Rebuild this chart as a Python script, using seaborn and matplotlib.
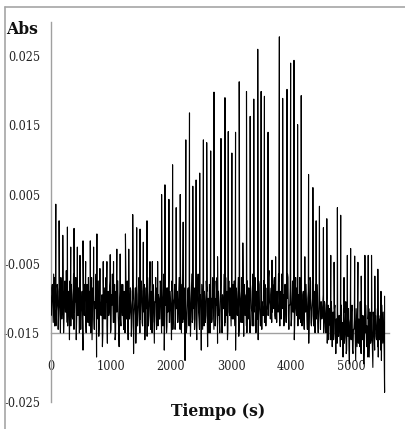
import os
import numpy as np
import pandas as pd
import matplotlib
matplotlib.use("Agg")
import matplotlib.pyplot as plt
import seaborn as sns
from matplotlib import font_manager as fm
from matplotlib.lines import Line2D

# ---------------- data (absorbance in units of 1e-4 Abs) ----------------
base_step_s = 15
# baseline samples at t = 0, 15, 30, ...
base_v = [
    -95, -120, -80, -135, -105, -70, -140, -110, -90, -125, -100, -150, -85, -115, -95, -130, -75, -120, -105, -140,
    -90, -160, -110, -80, -125, -100, -145, -95, -70, -130, -115, -85, -150, -105, -120, -90, -175, -110, -80, -135,
    -100, -125, -70, -140, -95, -115, -160, -85, -130, -105, -90, -185, -120, -75, -140, -100, -125, -95, -150, -110,
    -85, -130, -105, -165, -90, -120, -75, -145, -110, -100, -135, -80, -155, -115, -95, -125, -170, -90, -140, -105,
    -80, -145, -110, -95, -130, -75, -160, -105, -120, -90, -140, -100, -180, -115, -85, -135, -95, -125, -70, -150,
    -105, -90, -140, -115, -80, -130, -100, -155, -95, -120, -75, -145, -110, -135, -90, -165, -105, -125, -85, -140,
    -100, -130, -80, -150, -115, -95, -175, -110, -85, -140, -120, -70, -135, -105, -160, -90, -125, -100, -145, -80,
    -115, -135, -95, -120, -65, -150, -105, -130, -85, -190, -110, -140, -90, -125, -75, -155, -100, -135, -115, -85,
    -130, -100, -160, -80, -120, -145, -95, -175, -110, -70, -140, -105, -125, -90, -170, -115, -80, -150, -100, -130,
    -95, -145, -75, -125, -110, -165, -90, -135, -105, -80, -150, -115, -95, -140, -70, -125, -160, -100, -120, -85,
    -140, -105, -80, -130, -115, -175, -90, -125, -70, -145, -100, -135, -85, -120, -155, -95, -110, -140, -75, -130,
    -100, -150, -90, -120, -65, -140, -110, -85, -130, -105, -160, -80, -125, -95, -145, -115, -75, -135, -100, -120,
    -85, -125, -60, -110, -95, -135, -80, -115, -70, -130, -100, -90, -120, -75, -140, -105, -65, -115, -95, -125,
    -80, -135, -100, -70, -145, -110, -90, -130, -75, -120, -160, -95, -115, -85, -140, -105, -70, -135, -100, -125,
    -90, -145, -110, -80, -130, -100, -165, -115, -75, -140, -105, -125, -90, -150, -110, -80, -135, -120, -95, -145,
    -105, -125, -95, -140, -110, -150, -100, -130, -160, -115, -140, -105, -170, -120, -150, -110, -180, -130, -120, -155,
    -125, -170, -110, -145, -185, -120, -155, -105, -175, -135, -115, -195, -130, -160, -110, -180, -145, -125, -190, -140,
    -115, -165, -135, -105, -180, -150, -125, -195, -140, -110, -170, -155, -130, -185, -120, -160, -145, -200, -135, -175,
    -125, -160, -115, -185, -145, -130, -175, -110, -165, -150, -236,
]
# baseline samples at the half steps t = 7.5, 22.5, 37.5, ...
base_v_half = [
    -125, -85, -110, -65, -140, -100, -120, -80, -145, -95, -115, -70, -130, -105, -150, -90, -120, -60, -135, -100,
    -115, -75, -140, -95, -130, -65, -120, -105, -160, -85, -125, -100, -70, -145, -110, -135, -80, -125, -95, -150,
    -80, -135, -110, -90, -150, -70, -125, -100, -145, -115, -65, -130, -95, -155, -85, -120, -105, -170, -75, -130,
    -110, -70, -140, -100, -125, -85, -150, -95, -65, -135, -115, -160, -90, -120, -75, -145, -105, -130, -80, -125,
    -120, -90, -150, -70, -115, -135, -95, -130, -85, -155, -110, -75, -125, -100, -165, -80, -140, -110, -90, -130,
    -75, -135, -95, -120, -160, -85, -115, -70, -140, -100, -125, -90, -150, -80, -130, -105, -70, -145, -115, -95,
    -130, -75, -120, -95, -140, -65, -125, -100, -150, -85, -110, -135, -90, -120, -75, -145, -105, -80, -130, -115,
    -90, -120, -70, -145, -105, -80, -135, -95, -125, -70, -150, -115, -85, -140, -100, -125, -65, -130, -95, -145,
    -85, -140, -110, -65, -130, -95, -125, -80, -145, -115, -90, -135, -75, -120, -100, -150, -85, -115, -135, -70,
    -120, -90, -140, -100, -70, -125, -110, -150, -80, -130, -95, -115, -65, -135, -105, -90, -145, -75, -125, -110,
    -95, -130, -110, -75, -140, -85, -120, -100, -155, -90, -115, -70, -135, -105, -80, -125, -95, -150, -110, -85,
    -125, -80, -115, -140, -95, -120, -70, -150, -90, -130, -75, -115, -140, -85, -105, -125, -95, -80, -140, -110,
    -115, -70, -105, -130, -85, -120, -100, -75, -125, -95, -135, -110, -65, -120, -90, -130, -85, -100, -140, -80,
    -120, -95, -65, -125, -110, -85, -140, -100, -120, -90, -135, -70, -125, -105, -95, -130, -115, -80, -140, -95,
    -130, -85, -120, -105, -145, -90, -125, -70, -135, -115, -95, -140, -110, -80, -130, -100, -150, -90, -125, -105,
    -130, -110, -150, -105, -135, -120, -165, -110, -140, -130, -160, -120, -140, -160, -115, -150, -130, -165, -140, -125,
    -150, -125, -160, -135, -115, -165, -140, -180, -125, -155, -170, -135, -150, -120, -175, -145, -130, -160, -115, -170,
    -145, -130, -170, -155, -120, -160, -135, -175, -150, -125, -140, -185, -115, -150, -165, -130, -175, -120, -155, -145,
    -155, -135, -170, -125, -160, -140, -190, -135, -120, -175,
]

spike_t = [
    88, 143, 204, 281, 336, 391, 446, 490, 540, 584, 661, 716, 771, 821, 876, 937, 992, 1047, 1102, 1157,
    1245, 1300, 1366, 1432, 1488, 1542, 1603, 1653, 1691, 1780, 1846, 1901, 1967, 2028, 2088, 2155, 2204, 2248,
    2309, 2364, 2419, 2479, 2540, 2595, 2661, 2716, 2775, 2832, 2898, 2953, 3013, 3074, 3135, 3195, 3256, 3317,
    3377, 3443, 3499, 3554, 3614, 3680, 3740, 3802, 3857, 3929, 3989, 4045, 4105, 4165, 4225, 4287, 4359, 4413,
    4468, 4534, 4590, 4656, 4711, 4766, 4821, 4876, 4931, 4986, 5053, 5107, 5162, 5223, 5278, 5333, 5388, 5438,
    5490, 5550,
]
spike_v = [
    36, 12, -9, 3, -26, 1, -26, -38, -17, -47, -17, -26, -7, -57, -47, -47, -37, -47, -29, -36,
    -7, -29, 21, 2, 0, -19, 12, -47, -47, -47, 50, 64, 43, 93, 31, 50, 10, 129,
    168, 62, 71, 81, 129, 125, 113, 198, -40, 131, 190, 141, 110, 140, 213, -20, 199, 163,
    188, 260, 199, 192, 140, -45, -40, 278, 189, 202, 240, 244, 151, 193, -40, 79, 60, 12,
    33, 2, 15, -38, -48, 31, 20, -70, -38, -28, -39, -48, -68, -38, -38, -38, -68, -58,
    -90, -97,
]

xtick_vals = [0, 1000, 2000, 3000, 4000, 5000]
xtick_labels = ["0", "1000", "2000", "3000", "4000", "5000"]
ytick_vals = [-0.025, -0.015, -0.005, 0.005, 0.015, 0.025]
ytick_labels = ["-0.025", "-0.015", "-0.005", "0.005", "0.015", "0.025"]

base_t = np.arange(len(base_v)) * base_step_s
base_t_half = np.arange(len(base_v_half)) * base_step_s + base_step_s / 2
df = pd.concat([
    pd.DataFrame({"t": base_t, "v": np.array(base_v) * 1e-4}),
    pd.DataFrame({"t": base_t_half, "v": np.array(base_v_half) * 1e-4}),
    pd.DataFrame({"t": spike_t, "v": np.array(spike_v) * 1e-4}),
]).sort_values("t", kind="stable").reset_index(drop=True)

# ---------------- fonts ----------------
sns.set_style("white")

BAD = ("italic", "oblique", "light", "thin", "medium", "semi", "black", "extra", "demi", "heavy")


def find_narrow(want_bold):
    found = []
    for f in fm.fontManager.ttflist:
        b = os.path.basename(f.fname).lower()
        if not ("narrow" in b or "condensed" in b):
            continue
        if any(x in b for x in BAD):
            continue
        if ("bold" in b) != want_bold:
            continue
        found.append(f.fname)
    found.sort(key=lambda p: (0 if "serif" in p.lower() else 1, p))
    return found[0] if found else None


nr, nb = find_narrow(False), find_narrow(True)
if nr and nb:
    reg = fm.FontProperties(fname=nr)
    bold = fm.FontProperties(fname=nb)
else:
    reg = fm.FontProperties(family=["Liberation Serif", "DejaVu Serif"])
    bold = fm.FontProperties(family=["Liberation Serif", "DejaVu Serif"], weight="bold")
tick_fs, abs_fs, xl_fs = 9, 12.5, 12.5

# ---------------- figure ----------------
W, H = 405, 429
fig = plt.figure(figsize=(W / 100, H / 100), dpi=100)
fig.patch.set_facecolor("white")
ax = fig.add_axes([50.5 / W, 27 / H, 338.3 / W, 380.4 / H])

sns.lineplot(data=df, x="t", y="v", estimator=None, sort=False, color="black",
             linewidth=0.8, ax=ax, zorder=3)

ax.set_xlim(0, 5620)
ax.set_ylim(-0.025, 0.03)
ax.set_xticks(xtick_vals)
ax.set_xticklabels(xtick_labels)
ax.set_yticks(ytick_vals)
ax.set_yticklabels(ytick_labels)
ax.set_xlabel("")
ax.set_ylabel("")

for s in ("top", "right"):
    ax.spines[s].set_visible(False)
ax.spines["left"].set_color("#a0a0a0")
ax.spines["left"].set_linewidth(1.0)
ax.spines["bottom"].set_position(("data", -0.015))
ax.spines["bottom"].set_color("#a0a0a0")
ax.spines["bottom"].set_linewidth(1.0)

ax.tick_params(axis="x", length=0, pad=19.5, colors="#222222")
ax.tick_params(axis="y", length=4, width=0.9, color="#a0a0a0", pad=3.5,
               direction="out", labelcolor="#222222")

for lab in ax.get_xticklabels() + ax.get_yticklabels():
    lab.set_fontproperties(reg)
    lab.set_fontsize(tick_fs)

fig.text(22.5 / W, 1 - 30 / H, "Abs", fontproperties=bold, fontsize=abs_fs,
         ha="center", va="center", color="#111111")
fig.text(218 / W, 1 - 412 / H, "Tiempo (s)", fontproperties=bold, fontsize=xl_fs,
         ha="center", va="center", color="#111111")

# outer chart border (left and top edges visible)
fig.add_artist(Line2D([5 / W, 5 / W], [0, 1 - 6.5 / H], transform=fig.transFigure,
                      color="#a6a6a6", lw=1.2))
fig.add_artist(Line2D([5 / W, 1], [1 - 6.5 / H, 1 - 6.5 / H], transform=fig.transFigure,
                      color="#a6a6a6", lw=1.2))

fig.savefig("out.png", dpi=100)
